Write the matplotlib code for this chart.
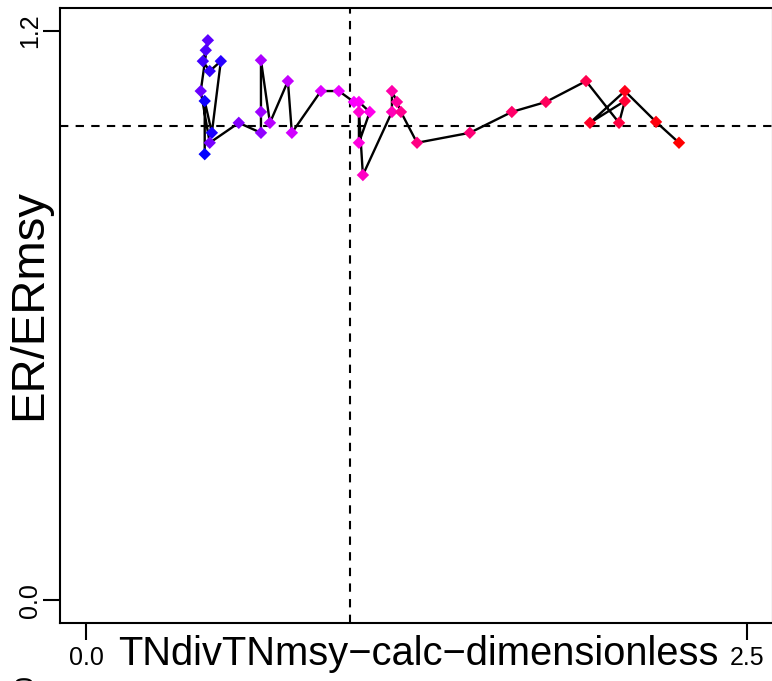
import matplotlib
matplotlib.use("Agg")
import matplotlib.pyplot as plt
from matplotlib.colors import hsv_to_rgb

plt.rcParams['font.family'] = ['Liberation Sans', 'DejaVu Sans']

# TN/TNmsy and ER/ERmsy, in time order
tn_ratio = [0.448, 0.448, 0.475, 0.509, 0.467, 0.441, 0.452, 0.460, 0.433, 0.467,
            0.577, 0.661, 0.661, 0.661, 0.695, 0.763, 0.778, 0.888, 0.956, 1.013,
            1.032, 1.073, 1.032, 1.032, 1.047, 1.157, 1.157, 1.176, 1.191, 1.252,
            1.452, 1.611, 1.740, 1.892, 2.017, 2.039, 1.907, 2.039, 2.157, 2.244]
er_ratio = [0.940, 1.052, 0.985, 1.136, 1.115, 1.136, 1.159, 1.180, 1.073, 0.964,
            1.006, 0.985, 1.029, 1.138, 1.006, 1.094, 0.985, 1.073, 1.073, 1.050,
            1.050, 1.029, 0.964, 1.029, 0.896, 1.029, 1.073, 1.050, 1.029, 0.964,
            0.985, 1.029, 1.050, 1.094, 1.006, 1.052, 1.006, 1.073, 1.008, 0.964]

x_ticks = [0.0, 2.5]
y_ticks = [0.0, 1.2]
ref_x = 1.0
ref_y = 1.0

n = len(tn_ratio)
# blue -> magenta -> red
colors = [hsv_to_rgb((2/3 + (1/3) * i / (n - 1), 1, 1)) for i in range(n)]

fig = plt.figure(figsize=(7.72, 6.81), dpi=100)
ax = fig.add_axes([60/772, 58/681, 713/772, 615/681])

ax.plot(tn_ratio, er_ratio, color='black', lw=1.7, zorder=2)
ax.scatter(tn_ratio, er_ratio, c=colors, marker='D', s=40, linewidths=0, zorder=3)

ax.axvline(ref_x, color='black', lw=1.5, linestyle=(0, (4, 3.5)), zorder=1)
ax.axhline(ref_y, color='black', lw=1.5, linestyle=(0, (4, 3.5)), zorder=1)

ax.set_xlim(-0.1, 2.6)
ax.set_ylim(-0.048, 1.248)
ax.set_xticks(x_ticks)
ax.set_xticklabels(['0.0', '2.5'], fontsize=18)
ax.set_yticks(y_ticks)
ax.set_yticklabels(['0.0', '1.2'], fontsize=18, rotation=90, va='center')
ax.tick_params(axis='both', length=12, width=1.5, direction='out')
ax.tick_params(axis='x', pad=4.5)
ax.tick_params(axis='y', pad=1)
for s in ax.spines.values():
    s.set_linewidth(1.5)

fig.text(418/772, 1 - 665/681, 'TNdivTNmsy\u2212calc\u2212dimensionless',
         fontsize=28.7, ha='center', va='baseline')
fig.text(41/772, 1 - 305/681, 'ER/ERmsy', fontsize=34, rotation=90,
         rotation_mode='anchor', ha='center', va='baseline')
# leftover tick label from the panel below
fig.text(26/772, 1 - 675/681, '0.0', fontsize=18, rotation=90, ha='center', va='top')

fig.savefig('out.png', dpi=100)
